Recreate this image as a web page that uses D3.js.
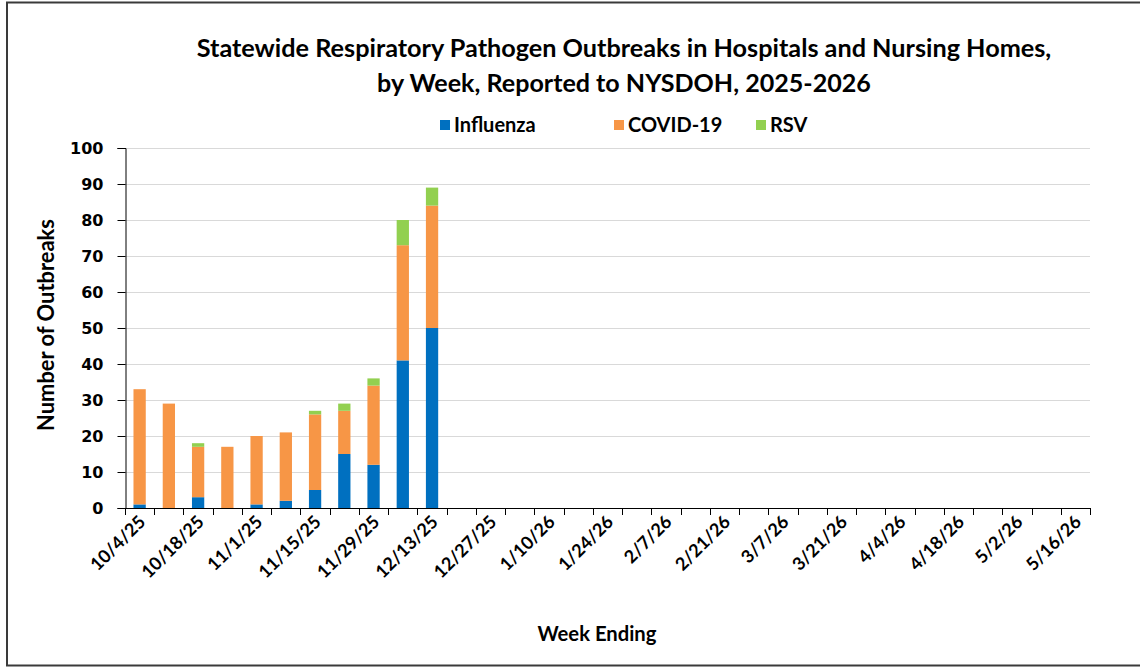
<!DOCTYPE html>
<html><head><meta charset="utf-8">
<script src="https://cdn.jsdelivr.net/npm/d3@7"></script>
<style>html,body{margin:0;padding:0;background:#fff;}svg{display:block;}</style>
</head><body>
<svg id="c" width="1140" height="668"></svg>
<script>
const weeks = ["10/4/25","10/11/25","10/18/25","10/25/25","11/1/25","11/8/25","11/15/25","11/22/25","11/29/25","12/6/25","12/13/25","12/20/25","12/27/25","1/3/26","1/10/26","1/17/26","1/24/26","1/31/26","2/7/26","2/14/26","2/21/26","2/28/26","3/7/26","3/14/26","3/21/26","3/28/26","4/4/26","4/11/26","4/18/26","4/25/26","5/2/26","5/9/26","5/16/26"];
const influenza = [1,0,3,0,1,2,5,15,12,41,50];
const covid19   = [32,29,14,17,19,19,21,12,22,32,34];
const rsv       = [0,0,1,0,0,0,1,2,2,7,5];
const seriesNames = ["Influenza","COVID-19","RSV"];
const seriesColors = ["#0070C0","#F79646","#92D050"];
const yTicks = [0,10,20,30,40,50,60,70,80,90,100];
const tickLabelWeeks = weeks.filter((d,i)=>i%2===0);
const titleLines = ["Statewide Respiratory Pathogen Outbreaks in Hospitals and Nursing Homes,","by Week, Reported to NYSDOH, 2025-2026"];

const svg = d3.select("#c");
const L=125, R=1090, T=148, B=508;
const FONT = "Lato, 'Open Sans', sans-serif";

function fit(el, target){
  const fs = +el.attr("font-size");
  const w = el.node().getComputedTextLength();
  el.attr("font-size", fs*target/w);
}

// border
svg.append("rect").attr("x",7).attr("y",2.5).attr("width",1150).attr("height",663)
  .attr("fill","none").attr("stroke","#3a3a3a").attr("stroke-width",2);

const x = d3.scaleBand().domain(weeks).range([L,R]).padding(0);
const y = d3.scaleLinear().domain([0,100]).range([B,T]);

// grid
svg.append("g").selectAll("line").data(yTicks.filter(d=>d>0)).join("line")
  .attr("x1",L).attr("x2",R).attr("y1",d=>Math.round(y(d))+0.5).attr("y2",d=>Math.round(y(d))+0.5)
  .attr("stroke","#D9D9D9").attr("stroke-width",1);

// stacked data
const rows = influenza.map((v,i)=>({week:weeks[i],"Influenza":v,"COVID-19":covid19[i],"RSV":rsv[i]}));
const stack = d3.stack().keys(seriesNames)(rows);
const bw = x.bandwidth()*0.42;
svg.append("g").selectAll("g").data(stack).join("g")
  .attr("fill",(d,i)=>seriesColors[i])
  .selectAll("rect").data(d=>d).join("rect")
  .attr("x",d=>x(d.data.week)+(x.bandwidth()-bw)/2)
  .attr("width",bw)
  .attr("y",d=>y(d[1]))
  .attr("height",d=>y(d[0])-y(d[1]));

// y axis
const yAxis = svg.append("g").attr("transform",`translate(${L+0.5},0)`)
  .call(d3.axisLeft(y).tickValues(yTicks).tickSize(8).tickPadding(14));
yAxis.select(".domain").attr("stroke","#000");
yAxis.selectAll(".tick line").attr("stroke","#000");
yAxis.selectAll("text").attr("font-family","'DejaVu Sans', Verdana, sans-serif")
  .attr("font-weight","bold").attr("font-size",16).attr("fill","#000");

// x axis line + ticks at band boundaries
const gx = svg.append("g");
gx.append("line").attr("x1",L).attr("x2",R).attr("y1",B+0.5).attr("y2",B+0.5).attr("stroke","#000");
const bounds = weeks.map(w=>x(w)).concat([x(weeks[weeks.length-1])+x.bandwidth()]);
gx.selectAll("line.t").data(bounds).join("line").attr("class","t")
  .attr("x1",d=>Math.round(d)+0.5).attr("x2",d=>Math.round(d)+0.5)
  .attr("y1",B).attr("y2",B+7).attr("stroke","#000");
gx.selectAll("text").data(tickLabelWeeks).join("text")
  .attr("transform",d=>`translate(${x(d)+x.bandwidth()/2+7},${B+15}) rotate(-45)`)
  .attr("text-anchor","end").attr("font-family",FONT).attr("font-weight","bold")
  .attr("font-size",18).attr("fill","#000").text(d=>d);

// axis titles
const xt = svg.append("text").attr("x",597).attr("y",641).attr("text-anchor","middle")
  .attr("font-family",FONT).attr("font-weight","bold").attr("font-size",20).text("Week Ending");
fit(xt,119);
const yt = svg.append("text").attr("transform","translate(54,325) rotate(-90)").attr("text-anchor","middle")
  .attr("font-family",FONT).attr("font-weight","bold").attr("font-size",20).text("Number of Outbreaks");
fit(yt,212);

// title
const tg = svg.append("g");
const titleY=[57,92], titleW=[855,494];
titleLines.forEach((t,i)=>{
  const el = tg.append("text").attr("x",624).attr("y",titleY[i]).attr("text-anchor","middle")
    .attr("font-family",FONT).attr("font-weight","bold").attr("font-size",20).attr("fill","#000").text(t);
  fit(el,titleW[i]);
});

// legend
const legX=[440,614,756];
const lg = svg.append("g");
seriesNames.forEach((n,i)=>{
  lg.append("rect").attr("x",legX[i]).attr("y",120).attr("width",10).attr("height",10).attr("fill",seriesColors[i]);
  lg.append("text").attr("x",legX[i]+14).attr("y",132).attr("font-family",FONT).attr("font-weight","bold")
    .attr("font-size",20).attr("fill","#000").text(n);
});
</script>
</body></html>
